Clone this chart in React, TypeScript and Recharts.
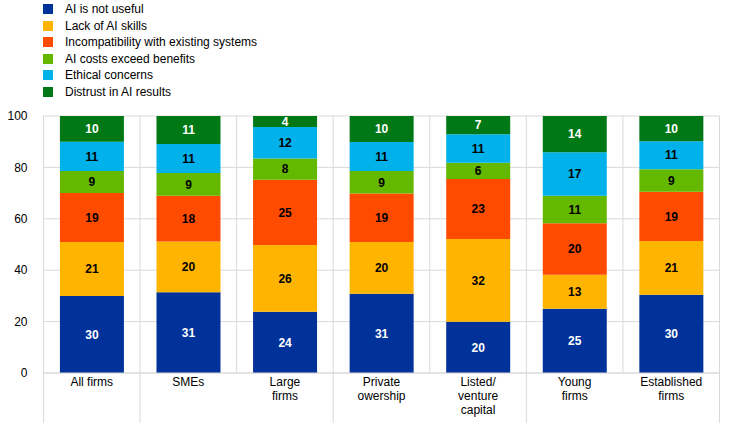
import { BarChart, Bar, XAxis, YAxis, CartesianGrid, LabelList } from 'recharts'

document.body.style.margin = '0'

const categories = ['All firms', 'SMEs', 'Large firms', 'Private owership', 'Listed/ venture capital', 'Young firms', 'Established firms']
const tickLines = [['All firms'], ['SMEs'], ['Large', 'firms'], ['Private', 'owership'], ['Listed/', 'venture', 'capital'], ['Young', 'firms'], ['Established', 'firms']]

const notUseful = [30.0, 31.4, 23.8, 30.8, 19.9, 25.0, 30.4]
const lackSkills = [21.0, 19.8, 26.0, 20.2, 32.2, 13.2, 21.0]
const incompatibility = [19.0, 17.8, 25.4, 18.8, 23.4, 20.1, 19.1]
const costs = [8.6, 8.8, 8.3, 8.8, 6.3, 10.7, 8.8]
const ethical = [11.4, 11.3, 12.2, 11.3, 11.1, 16.9, 10.9]
const distrust = [10.0, 10.9, 4.3, 10.1, 7.1, 14.1, 9.8]
const yTicks = [0, 20, 40, 60, 80, 100]

const series = [
  { key: 'notUseful', name: 'AI is not useful', color: '#003299', label: '#ffffff' },
  { key: 'lackSkills', name: 'Lack of AI skills', color: '#FFB400', label: '#000000' },
  { key: 'incompatibility', name: 'Incompatibility with existing systems', color: '#FF4B00', label: '#000000' },
  { key: 'costs', name: 'AI costs exceed benefits', color: '#65B800', label: '#000000' },
  { key: 'ethical', name: 'Ethical concerns', color: '#00B1EA', label: '#000000' },
  { key: 'distrust', name: 'Distrust in AI results', color: '#007816', label: '#ffffff' },
]

const data = categories.map((c, i) => ({
  category: c,
  notUseful: notUseful[i],
  lackSkills: lackSkills[i],
  incompatibility: incompatibility[i],
  costs: costs[i],
  ethical: ethical[i],
  distrust: distrust[i],
}))

const W = 740
const H = 423
const PLOT_TOP = 116
const PLOT_BOTTOM = 373
const PLOT_LEFT = 43.5
const PLOT_RIGHT = 719.5
const BAND = (PLOT_RIGHT - PLOT_LEFT) / categories.length
const GRID = '#d9d9d9'
const FONT = '"Liberation Sans", Arial, sans-serif'
// boundaries whose separator runs below the axis
const longSeparators = [0, 1, 3, 5]

function CategoryTick(props: any) {
  const { x, index } = props
  const left = x - BAND / 2
  const lines = tickLines[index] || []
  return (
    <g>
      <line x1={left} x2={left} y1={PLOT_TOP} y2={longSeparators.includes(index) ? H : PLOT_BOTTOM} stroke={GRID} />
      {index === categories.length - 1 && (
        <line x1={left + BAND} x2={left + BAND} y1={PLOT_TOP} y2={H} stroke={GRID} />
      )}
      <text textAnchor="middle" fontSize={12} fontFamily={FONT} fill="#000">
        {lines.map((l, i) => (
          <tspan key={i} x={x} y={PLOT_BOTTOM + 13 + i * 14}>{l}</tspan>
        ))}
      </text>
    </g>
  )
}

export default function App() {
  return (
    <div style={{ position: 'relative', width: W, height: H, background: '#fff', fontFamily: FONT }}>
      <div style={{ position: 'absolute', left: 43, top: 1, fontSize: 12, color: '#000' }}>
        {series.map((s) => (
          <div key={s.key} style={{ display: 'flex', alignItems: 'center', height: 16.5 }}>
            <span style={{ width: 10, height: 10, background: s.color, display: 'inline-block', marginRight: 12 }} />
            <span>{s.name}</span>
          </div>
        ))}
      </div>
      <BarChart
        width={W}
        height={H}
        data={data}
        margin={{ top: PLOT_TOP, right: W - PLOT_RIGHT, bottom: 0, left: 0 }}
        barCategoryGap="17%"
        style={{ position: 'absolute', left: 0, top: 0 }}
      >
        <CartesianGrid vertical={false} stroke={GRID} />
        <XAxis
          dataKey="category"
          axisLine={{ stroke: GRID }}
          tickLine={false}
          interval={0}
          tick={<CategoryTick />}
          height={H - PLOT_BOTTOM}
        />
        <YAxis
          domain={[0, 100]}
          ticks={yTicks}
          width={PLOT_LEFT}
          axisLine={false}
          tickLine={false}
          tickMargin={10}
          tick={{ fill: '#000', fontSize: 12, fontFamily: FONT }}
        />
        {series.map((s) => (
          <Bar key={s.key} dataKey={s.key} name={s.name} stackId="a" fill={s.color} isAnimationActive={false}>
            <LabelList
              dataKey={s.key}
              position="center"
              formatter={(v: any) => Math.round(Number(v))}
              fill={s.label}
              fontSize={12}
              fontWeight="bold"
              fontFamily={FONT}
            />
          </Bar>
        ))}
      </BarChart>
    </div>
  )
}
